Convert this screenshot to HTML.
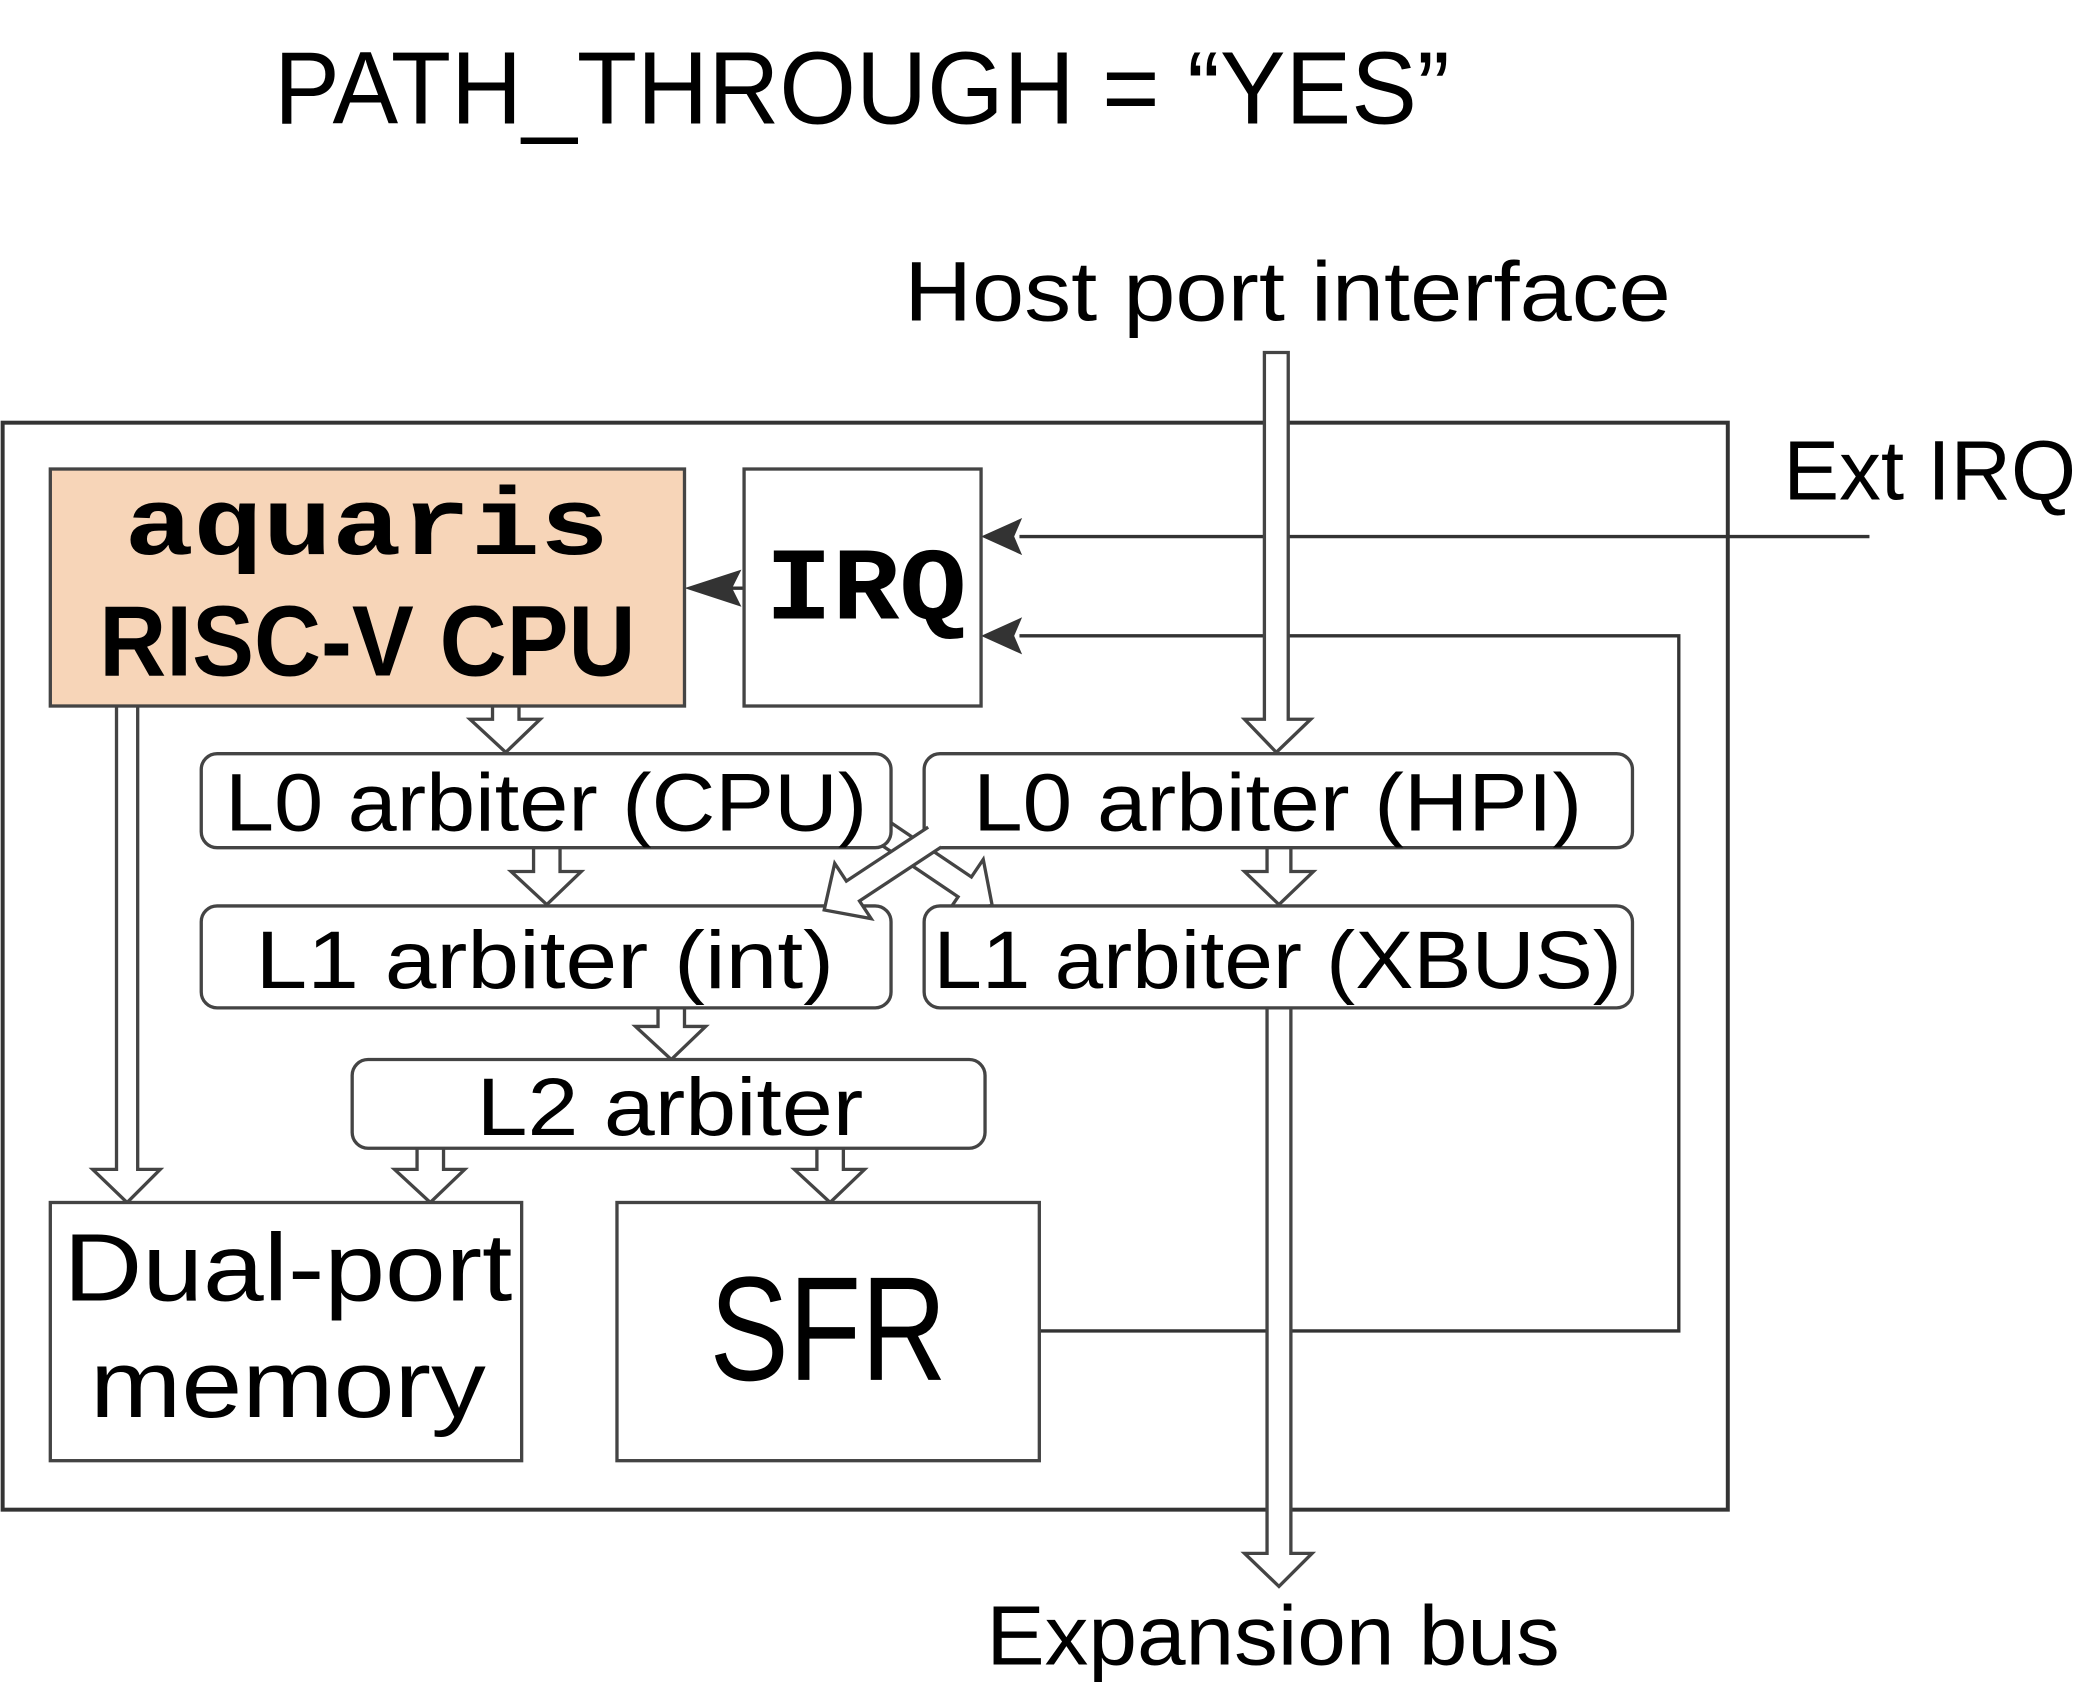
<!DOCTYPE html>
<html><head><meta charset="utf-8"><style>
html,body{margin:0;padding:0;background:#fff;}
svg{display:block;}
text{font-family:"Liberation Sans",sans-serif;fill:#000;}
.m{font-family:"Liberation Mono",monospace;font-weight:bold;}
</style></head><body>
<svg width="2076" height="1698" viewBox="0 0 1568 1282" xmlns="http://www.w3.org/2000/svg">
<defs>
<path id="ha" d="M -9,0 L -9,-25 L -25,-25 L 0,0 L 25,-25 L 9,-25 L 9,0" />
<marker id="ah" markerWidth="10" markerHeight="10" refX="9" refY="5" orient="auto" markerUnits="userSpaceOnUse">
</marker>
</defs>
<g fill="none" stroke="#333" stroke-width="3">
<rect x="2" y="319" width="1303" height="821"/>
</g>
<text x="207" y="93" font-size="78" textLength="888" lengthAdjust="spacingAndGlyphs">PATH_THROUGH = “YES”</text>
<text x="683" y="242" font-size="64" textLength="579" lengthAdjust="spacingAndGlyphs">Host port interface</text>
<text x="1347" y="377" font-size="64" textLength="221" lengthAdjust="spacingAndGlyphs">Ext IRQ</text>
<text x="745" y="1257" font-size="64" textLength="433" lengthAdjust="spacingAndGlyphs">Expansion bus</text>

<!-- thin connectors -->
<g stroke="#333" stroke-width="2.5" fill="none">
<line x1="1412" y1="405" x2="770" y2="405"/>
<polyline points="785,1005 1268,1005 1268,480 770,480"/>
<line x1="562" y1="444" x2="545" y2="444"/>
</g>
<g fill="#333">
<polygon points="741,405 772,391 766,405 772,419"/>
<polygon points="741,480 772,466 766,480 772,494"/>
<polygon points="517,444 560,430 553,444 560,458"/>
</g>

<!-- hollow arrows -->
<g fill="#fff" stroke="#444" stroke-width="2.5" stroke-linejoin="miter">
<path d="M955,266 L955,543 L940,543 L964,568 L990,543 L973,543 L973,266 Z"/>
<path d="M957,761 L957,1173 L940,1173 L966,1198 L991,1173 L975,1173 L975,761"/>
<path d="M88,533 L88,883 L70,883 L96,908 L121,883 L104,883 L104,533"/>
<path d="M372,533 L372,543 L355,543 L382,568 L408,543 L392,543 L392,533"/>
<path d="M403,640 L403,658 L386,658 L413,683 L439,658 L423,658 L423,640"/>
<path d="M957,640 L957,658 L940,658 L966,683 L992,658 L975,658 L975,640"/>
<path d="M497,761 L497,775 L480,775 L507,800 L533,775 L517,775 L517,761"/>
<path d="M315,867 L315,883 L298,883 L325,908 L351,883 L335,883 L335,867"/>
<path d="M617,867 L617,883 L600,883 L627,908 L653,883 L637,883 L637,867"/>
<g transform="translate(664,626) rotate(-56)"><path d="M -9,0 L -9,78 L -25,78 L 0,103 L 25,78 L 9,78 L 9,0"/></g>
</g>

<!-- boxes -->
<g stroke="#444" stroke-width="2.5">
<rect x="38" y="354" width="479" height="179" fill="#f7d5b8"/>
<rect x="562" y="354" width="179" height="179" fill="#fff"/>
<rect x="152" y="569" width="521" height="71" rx="12" fill="#fff"/>
<rect x="698" y="569" width="535" height="71" rx="12" fill="#fff"/>
<rect x="152" y="684" width="521" height="77" rx="12" fill="#fff"/>
<rect x="698" y="684" width="535" height="77" rx="12" fill="#fff"/>
<rect x="266" y="800" width="478" height="67" rx="12" fill="#fff"/>
<rect x="38" y="908" width="356" height="195" fill="#fff"/>
<rect x="466" y="908" width="319" height="195" fill="#fff"/>
</g>
<g fill="#fff" stroke="#444" stroke-width="2.5">
<g transform="translate(706,632) rotate(56.6)"><path d="M -9,0 L -9,74 L -25,74 L 0,100 L 25,74 L 9,74 L 9,0"/></g>
</g>

<text class="m" x="277" y="418" font-size="72" text-anchor="middle" textLength="366" lengthAdjust="spacingAndGlyphs">aquaris</text>
<text x="75" y="510" font-size="76" font-weight="bold" textLength="405" lengthAdjust="spacingAndGlyphs">RISC-V CPU</text>
<text class="m" x="578" y="467" font-size="78" textLength="152" lengthAdjust="spacingAndGlyphs">IRQ</text>
<text x="170" y="627" font-size="62" textLength="485" lengthAdjust="spacingAndGlyphs">L0 arbiter (CPU)</text>
<text x="735" y="627" font-size="62" textLength="460" lengthAdjust="spacingAndGlyphs">L0 arbiter (HPI)</text>
<text x="193" y="746" font-size="62" textLength="437" lengthAdjust="spacingAndGlyphs">L1 arbiter (int)</text>
<text x="705" y="746" font-size="62" textLength="520" lengthAdjust="spacingAndGlyphs">L1 arbiter (XBUS)</text>
<text x="360" y="857" font-size="62" textLength="292" lengthAdjust="spacingAndGlyphs">L2 arbiter</text>
<text x="48" y="982" font-size="72" textLength="339" lengthAdjust="spacingAndGlyphs">Dual-port</text>
<text x="68" y="1070" font-size="72" textLength="299" lengthAdjust="spacingAndGlyphs">memory</text>
<text x="536" y="1042" font-size="112" textLength="179" lengthAdjust="spacingAndGlyphs">SFR</text>
</svg>
</body></html>
